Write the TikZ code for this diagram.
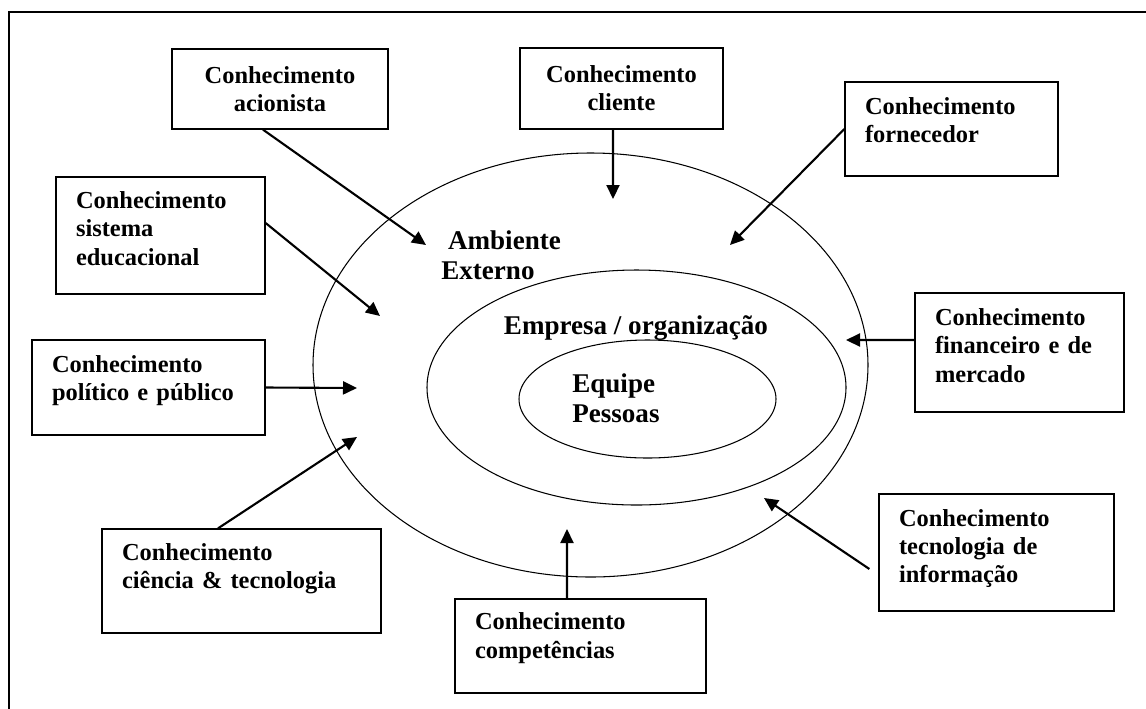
\documentclass[tikz,border=0pt]{standalone}
\usepackage{fontspec}
\setmainfont{Liberation Serif}
\usetikzlibrary{arrows.meta}
\newcommand{\gapbelow}[1]{\rule[-#1]{0pt}{#1}} % extra room under the last line of a box
\tikzset{
    every node/.style={ % Sets the font for every label
        font=\bfseries\fontsize{13.9pt}{16pt}\selectfont
    },
    kbox/.style={ % Sets the properties for each knowledge box
        draw,
        line width=0.75pt,
        inner xsep=0.4cm,
        inner ysep=0pt
    },
    klabel/.style={ % Labels inside the rings
        inner sep=0pt,
        align=left,
        font=\bfseries\fontsize{15.4pt}{17pt}\selectfont
    },
    ring/.style={line width=0.6pt},
    flow/.style={ % Sets the properties for each arrow
        draw,
        -{Triangle[length=0.28cm,width=0.26cm]},
        line width=1.2pt
    }
}

\begin{document}
\begin{tikzpicture}[x=0.02cm, y=-0.02cm] % one unit is one pixel, y grows downwards
    \useasboundingbox (0,0) rectangle (1146,708);
    \draw[line width=0.9pt] (9,12) rectangle (1160,720);

    % the three rings
    \draw[ring] (590.5,365) ellipse (277.5 and 212);
    \draw[ring] (636.5,387.5) ellipse (209.5 and 117.5);
    \draw[ring] (647.5,399) ellipse (128.5 and 59);

    \node[klabel, anchor=west] (amb) at (441,255) {~Ambiente\\Externo};
    \node[klabel] (emp) at (636,328) {Empresa / organização};
    \node[klabel, anchor=west] (eqp) at (572,398) {Equipe\\Pessoas};

    % knowledge boxes
    \node[kbox, align=center, minimum width=4.32cm, minimum height=1.6cm] (acion) at (280,89) {Conhecimento\\acionista};
    \node[kbox, align=center, minimum width=4.06cm, minimum height=1.62cm] (cli) at (621.5,88.5) {Conhecimento\\cliente};
    \node[kbox, align=left, text width=3.46cm, minimum height=1.88cm] (forn) at (951.5,129) {Conhecimento\\fornecedor\gapbelow{10pt}};
    \node[kbox, align=left, text width=3.38cm, minimum height=2.34cm] (sist) at (160.5,235.5) {Conhecimento\\sistema\\educacional\gapbelow{8pt}};
    \node[kbox, align=left, text width=3.86cm, minimum height=1.9cm] (poli) at (148.5,387.5) {Conhecimento\\político e público\gapbelow{10.5pt}};
    \node[kbox, align=left, text width=3.38cm, minimum height=2.38cm] (fin) at (1019.5,352.5) {Conhecimento\\financeiro e de\\mercado\gapbelow{8pt}};
    \node[kbox, align=left, text width=4.78cm, minimum height=2.08cm] (cien) at (241.5,581) {Conhecimento\\ciência \& tecnologia\gapbelow{16.7pt}};
    \node[kbox, align=left, text width=4.22cm, minimum height=1.88cm] (comp) at (580.5,646) {Conhecimento\\competências\gapbelow{12pt}};
    \node[kbox, align=left, text width=3.9cm, minimum height=2.34cm] (tec) at (996.5,552.5) {Conhecimento\\tecnologia de\\informação\gapbelow{7.5pt}};

    % where the arrows end
    \coordinate (tAcion) at (426,245);
    \coordinate (tCli) at (613,199);
    \coordinate (tForn) at (730,245);
    \coordinate (tSist) at (380,316);
    \coordinate (tPoli) at (357,388);
    \coordinate (tCien) at (357,437);
    \coordinate (tComp) at (567,529);
    \coordinate (tTec) at (764,498);
    \coordinate (tFin) at (846,340);

    \draw[flow] ([xshift=-0.34cm]acion.south) -- (tAcion);
    \draw[flow] ([xshift=-0.17cm]cli.south) -- (tCli);
    \draw[flow] (forn.west) -- (tForn);
    \draw[flow] ([yshift=0.25cm]sist.east) -- (tSist);
    \draw[flow] (poli.east) -- (tPoli);
    \draw[flow] ([xshift=-0.47cm]cien.north) -- (tCien);
    \draw[flow] ([xshift=-0.27cm]comp.north) -- (tComp);
    \draw[flow] ([xshift=-0.18cm, yshift=-0.33cm]tec.west) -- (tTec);
    \draw[flow] ([yshift=0.25cm]fin.west) -- (tFin);
\end{tikzpicture}
\end{document}
